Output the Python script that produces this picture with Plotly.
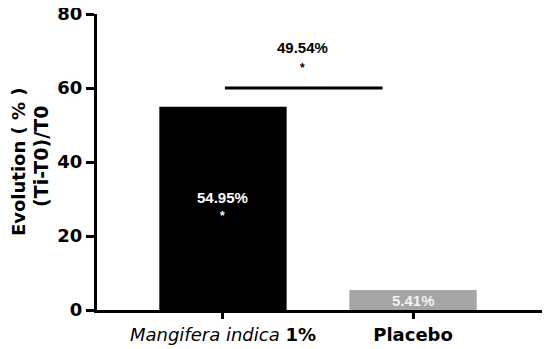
import plotly.graph_objects as go

groups = ["<i>Mangifera indica</i> <b>1%</b>", "<b>Placebo</b>"]
evolution = [54.95, 5.41]
bar_labels = ["54.95%", "5.41%"]
bar_colors = ["#000000", "#a5a5a5"]
diff_label = "49.54%"
diff_level = 60

xs = [0, 1]

fig = go.Figure()
fig.add_bar(
    x=xs,
    y=evolution,
    width=0.67,
    marker=dict(color=bar_colors, line=dict(width=0)),
    showlegend=False,
)

# value labels inside bars
fig.add_annotation(x=0, y=30.5, text="<b>" + bar_labels[0] + "</b>", showarrow=False,
                   font=dict(family="Liberation Sans", size=15, color="white"))
fig.add_annotation(x=0, y=25.5, text="<b>*</b>", showarrow=False,
                   font=dict(family="Liberation Sans", size=12, color="white"))
fig.add_annotation(x=1, y=2.6, text="<b>" + bar_labels[1] + "</b>", showarrow=False,
                   font=dict(family="Liberation Sans", size=15, color="#f2f2f2"))

# significance bar
fig.add_shape(type="line", x0=0.01, x1=0.84, y0=diff_level, y1=diff_level,
              xref="x", yref="y", line=dict(color="black", width=3))
fig.add_annotation(x=0.42, y=71, text="<b>" + diff_label + "</b>", showarrow=False,
                   font=dict(family="Liberation Sans", size=15, color="black"))
fig.add_annotation(x=0.42, y=65.5, text="<b>*</b>", showarrow=False,
                   font=dict(family="Liberation Sans", size=12, color="black"))

# y axis title (two centered lines)
fig.add_annotation(xref="paper", yref="paper", x=-0.177, y=0.5, xanchor="center",
                   text="<b>Evolution ( % )</b>",
                   textangle=-90, showarrow=False, font=dict(size=18))
fig.add_annotation(xref="paper", yref="paper", x=-0.126, y=0.52, xanchor="center",
                   text="<b>(Ti-T0)/T0</b>",
                   textangle=-90, showarrow=False, font=dict(size=19))

# page body has an 8px margin, so size/margins compensate for it
fig.update_layout(
    width=542,
    height=341,
    margin=dict(l=89, r=7, t=6, b=39),
    paper_bgcolor="white",
    plot_bgcolor="white",
    font=dict(family="DejaVu Sans", color="black"),
    xaxis=dict(
        range=[-0.663, 1.684],
        tickvals=xs,
        ticktext=groups,
        ticks="outside",
        ticklen=6,
        tickwidth=3,
        tickcolor="black",
        showline=True,
        linewidth=3,
        linecolor="black",
        showgrid=False,
        zeroline=False,
        automargin=False,
        tickfont=dict(size=18),
    ),
    yaxis=dict(
        range=[0, 80],
        tickvals=[0, 20, 40, 60, 80],
        ticktext=["<b>0</b>", "<b>20</b>", "<b>40</b>", "<b>60</b>", "<b>80</b>"],
        ticks="outside",
        ticklen=8,
        tickwidth=3,
        tickcolor="black",
        showline=True,
        linewidth=3,
        linecolor="black",
        showgrid=False,
        zeroline=False,
        automargin=False,
        ticklabeloverflow="allow",
        tickfont=dict(size=18, family="DejaVu Sans"),
    ),
)

fig.write_html("out.html")
